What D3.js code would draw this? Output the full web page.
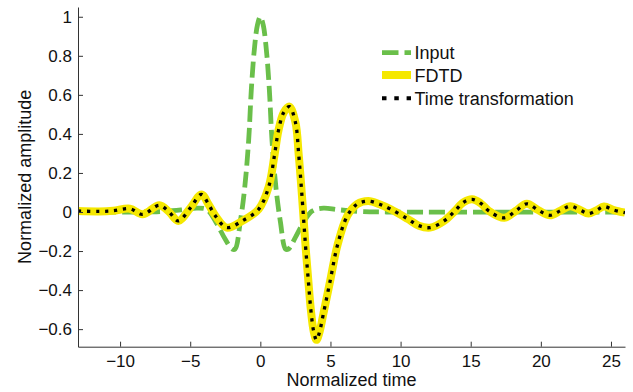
<!doctype html>
<html>
  <head>
    <script src="https://cdn.jsdelivr.net/npm/d3@7"></script>
    <style>
      body { margin: 0; background: #fff; }
    </style>
  </head>
  <body>
    <script>
    // Input pulse (green dashed)
    var inputT = [-13, -9, -7, -5.5, -4.5, -3.8, -3.1, -2.5, -2.0, -1.8, -1.43, -1.12, -0.83, -0.64, -0.43, -0.2, 0,
                  0.2, 0.43, 0.64, 0.83, 1.12, 1.43, 1.8, 2.0, 2.5, 3.1, 3.7, 4.5, 5.5, 7, 9, 26];
    var inputV = [0, 0, 0.003, 0.012, 0.02, 0.012, -0.06, -0.14, -0.19, -0.19, -0.05, 0.12, 0.37, 0.63, 0.83, 0.96, 1,
                  0.96, 0.83, 0.63, 0.37, 0.12, -0.05, -0.19, -0.19, -0.13, -0.05, 0.005, 0.02, 0.012, 0.003, 0, 0];

    // FDTD result (yellow)
    var fdtdT = [-13, -11.5, -10.5, -9.3, -8.4, -7.2, -6.5, -5.85, -5, -4.2, -3.7, -3.2, -2.4, -1.3, -0.12, 0.6, 1.0, 1.3,
                 1.67, 2.07, 2.5, 2.74, 2.93, 3.1, 3.25, 3.42, 3.6, 3.8, 4.0, 4.2, 4.5, 5.0, 5.5, 6.2, 6.9, 7.7, 8.5, 9.3,
                 10.5, 11.3, 12.1, 13.1, 13.8, 14.5, 15.1, 15.7, 16.3, 17.4, 18.2, 19.0, 19.8, 20.65, 21.4, 22.1, 22.8,
                 23.4, 24.0, 24.5, 25.2, 26];
    var fdtdV = [0.005, 0.003, 0.006, 0.017, -0.012, 0.034, 0, -0.046, 0.02, 0.09, 0.04, -0.02, -0.08, -0.046, 0.014, 0.13,
                 0.287, 0.42, 0.51, 0.54, 0.46, 0.29, 0.12, -0.05, -0.2, -0.35, -0.5, -0.61, -0.655, -0.62, -0.52, -0.345,
                 -0.17, -0.02, 0.04, 0.056, 0.04, 0.014, -0.035, -0.07, -0.08, -0.046, 0, 0.05, 0.065, 0.045, 0.005,
                 -0.03, 0.005, 0.042, 0.01, -0.017, 0.007, 0.03, 0.01, -0.008, 0.01, 0.028, 0.01, -0.003];

    // time transformation result lies on top of FDTD
    var timeT = fdtdT;
    var timeV = fdtdV;

    var xTicks = [-10, -5, 0, 5, 10, 15, 20, 25];
    var yTicks = [-0.6, -0.4, -0.2, 0, 0.2, 0.4, 0.6, 0.8, 1];
    var legendNames = ["Input", "FDTD", "Time transformation"];

    var width = 633, height = 392;
    var margin = {top: 7, right: 8, bottom: 45.3, left: 78};
    var innerWidth = width - margin.left - margin.right;
    var innerHeight = height - margin.top - margin.bottom;

    var green = "#6abf4a", yellow = "#f5e800";
    var font = "'Liberation Sans', Arial, Helvetica, sans-serif";

    var svg = d3.select("body").append("svg")
      .attr("width", width)
      .attr("height", height)
      .style("display", "block");

    var g = svg.append("g")
      .attr("transform", "translate(" + margin.left + "," + margin.top + ")");

    var xScale = d3.scaleLinear().domain([-13, 26]).range([0, innerWidth]);
    var yScale = d3.scaleLinear().domain([-0.69, 1.05]).range([innerHeight, 0]);

    function fmt(d) {
      if (d === 0) return "0";
      return (d < 0 ? "\u2212" : "") + Math.abs(d);
    }

    g.append("clipPath").attr("id", "clip")
      .append("rect").attr("width", innerWidth).attr("height", innerHeight);

    var line = d3.line()
      .x(function(d) { return xScale(d[0]); })
      .y(function(d) { return yScale(d[1]); })
      .curve(d3.curveCatmullRom.alpha(0.5));

    var plot = g.append("g").attr("clip-path", "url(#clip)");

    plot.append("path")
      .datum(d3.zip(inputT, inputV))
      .attr("d", line)
      .attr("fill", "none")
      .attr("stroke", green)
      .attr("stroke-width", 4.8)
      .attr("stroke-dasharray", "16,6");

    plot.append("path")
      .datum(d3.zip(fdtdT, fdtdV))
      .attr("d", line)
      .attr("fill", "none")
      .attr("stroke", yellow)
      .attr("stroke-width", 8)
      .attr("stroke-linejoin", "round");

    plot.append("path")
      .datum(d3.zip(timeT, timeV))
      .attr("d", line)
      .attr("fill", "none")
      .attr("stroke", "#000")
      .attr("stroke-width", 3.3)
      .attr("stroke-dasharray", "3.3,5.7");

    // axes, ticks pointing inward
    var xAxis = d3.axisBottom(xScale).tickValues(xTicks).tickFormat(fmt)
      .tickSizeInner(-5).tickSizeOuter(0).tickPadding(8);
    var yAxis = d3.axisLeft(yScale).tickValues(yTicks).tickFormat(fmt)
      .tickSizeInner(-5).tickSizeOuter(0).tickPadding(6);

    var gx = g.append("g")
      .attr("transform", "translate(0," + innerHeight + ")")
      .call(xAxis);
    var gy = g.append("g").call(yAxis);

    [gx, gy].forEach(function(a) {
      a.select(".domain").attr("stroke", "#333");
      a.selectAll(".tick line").attr("stroke", "#333");
      a.selectAll(".tick text")
        .attr("fill", "#111")
        .style("font-family", font)
        .style("font-size", "17px");
    });

    g.append("text")
      .attr("x", innerWidth / 2)
      .attr("y", innerHeight + 39)
      .attr("text-anchor", "middle")
      .style("font-family", font)
      .style("font-size", "18px")
      .attr("fill", "#111")
      .text("Normalized time");

    g.append("text")
      .attr("transform", "translate(" + (-47) + "," + (innerHeight / 2) + ") rotate(-90)")
      .attr("text-anchor", "middle")
      .style("font-family", font)
      .style("font-size", "18px")
      .attr("fill", "#111")
      .text("Normalized amplitude");

    // legend
    var legend = svg.append("g").attr("transform", "translate(382,0)");
    var rowsY = [52.7, 75, 98.3];

    legend.append("line")
      .attr("x1", 0).attr("x2", 29).attr("y1", rowsY[0]).attr("y2", rowsY[0])
      .attr("stroke", green).attr("stroke-width", 4.8).attr("stroke-dasharray", "16.5,6");
    legend.append("line")
      .attr("x1", 0).attr("x2", 29).attr("y1", rowsY[1]).attr("y2", rowsY[1])
      .attr("stroke", yellow).attr("stroke-width", 8);
    legend.append("line")
      .attr("x1", 0).attr("x2", 29).attr("y1", rowsY[2]).attr("y2", rowsY[2])
      .attr("stroke", "#000").attr("stroke-width", 4).attr("stroke-dasharray", "4.5,7.8");

    legend.selectAll("text.name")
      .data(legendNames)
      .enter().append("text")
      .attr("class", "name")
      .attr("x", 32.5)
      .attr("y", function(d, i) { return rowsY[i] + 6.5; })
      .style("font-family", font)
      .style("font-size", "18px")
      .attr("fill", "#111")
      .text(function(d) { return d; });
    </script>
  </body>
</html>
